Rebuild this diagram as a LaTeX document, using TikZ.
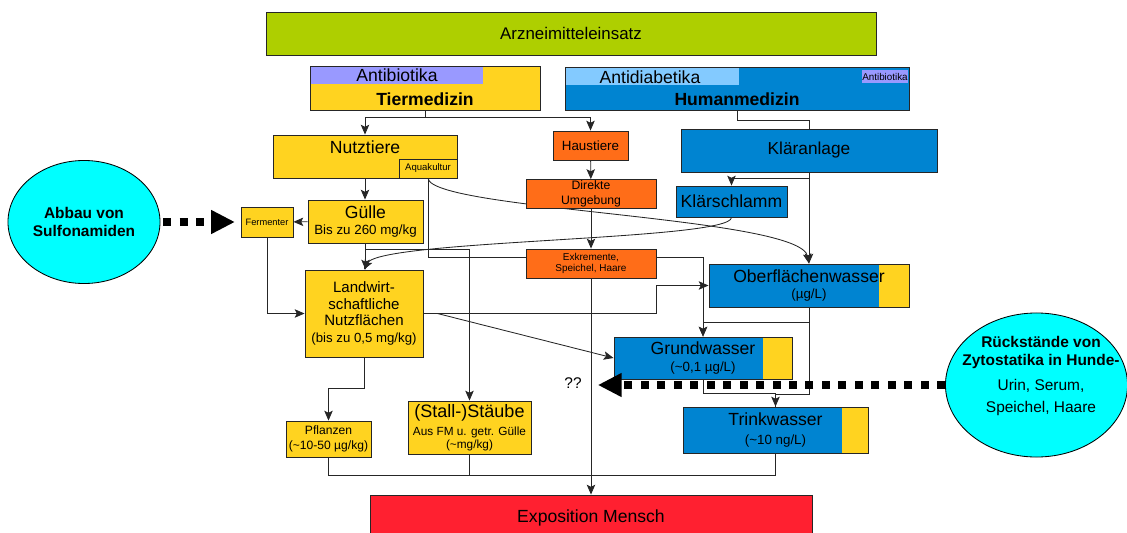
\documentclass[tikz,border=0pt]{standalone}
\usepackage{fontspec}
\setmainfont{Liberation Sans}
\usetikzlibrary{arrows.meta,backgrounds,shapes.geometric}

\definecolor{gelb}{RGB}{255,211,32}
\definecolor{blau}{RGB}{0,132,209}
\definecolor{hellblau}{RGB}{131,202,255}
\definecolor{lila}{RGB}{153,153,255}
\definecolor{gruen}{RGB}{174,207,0}
\definecolor{rot}{RGB}{255,32,48}
\definecolor{orangerot}{RGB}{255,109,24}
\definecolor{tuerkis}{RGB}{0,255,255}

\newcommand{\schrift}[2]{\fontsize{#1}{#2}\selectfont}

\begin{document}
\begin{tikzpicture}[
    x=0.025cm, y=-0.025cm,
    box/.style={draw=black!85, line width=0.6pt, inner sep=1pt, align=center},
    kopf/.style 2 args={path picture={\fill[#1] (path picture bounding box.north west) rectangle ([xshift=#2, yshift=-0.45cm]path picture bounding box.north west);}},
    gelbrand/.style={path picture={\fill[gelb] ([xshift=-#1]path picture bounding box.north east) rectangle (path picture bounding box.south east);}},
    oval/.style={ellipse, draw=black, line width=0.6pt, fill=tuerkis, inner sep=0pt},
    pfeil/.style={draw=black!85, line width=0.6pt, -{Stealth[length=7pt,width=6pt,inset=1.5pt]}},
    linie/.style={draw=black!85, line width=0.6pt},
    punkte/.style={line width=5.6pt, dash pattern=on 5.7pt off 6pt, -{Triangle[length=17pt,width=16pt]}}
]
\useasboundingbox (0,0) rectangle (1127,533);

% Kopfzeile
\node[box, fill=gruen, minimum width=15.25cm, minimum height=1.075cm, font=\schrift{12}{14}] (arznei) at (571,33.5) {Arzneimitteleinsatz};

\node[box, fill=gelb, kopf={lila}{4.325cm}, minimum width=5.75cm, minimum height=1.1cm] (tier) at (425,88) {};
\node[font=\schrift{12.5}{15}] (tierab) at (397,75) {Antibiotika};
\node[font=\schrift{12.5}{15}\bfseries] (tiername) at (425,99) {Tiermedizin};

\node[box, fill=blau, kopf={hellblau}{4.35cm}, minimum width=8.6cm, minimum height=1.075cm] (human) at (737,88.5) {};
\node[font=\schrift{12.5}{15}] (humanab) at (650,77) {Antidiabetika};
\node[font=\schrift{12.5}{15}\bfseries] (humanname) at (737,99) {Humanmedizin};
\node[fill=lila, inner sep=0pt, minimum width=1.15cm, minimum height=0.325cm, font=\schrift{7}{8}] (humanantib) at (885,76.5) {Antibiotika};

% Tiere
\node[box, fill=gelb, minimum width=4.6cm, minimum height=1.075cm] (nutz) at (365,156.5) {};
\node[font=\schrift{12.5}{15}] (nutztext) at (365,147) {Nutztiere};
\node[box, fill=gelb, minimum width=1.45cm, minimum height=0.475cm, font=\schrift{6.8}{8}] (aqua) at (428,168.5) {Aquakultur};

\node[box, fill=orangerot, minimum width=1.875cm, minimum height=0.725cm, font=\schrift{9.5}{11}] (haus) at (590.5,145.5) {Haustiere};
\node[box, fill=orangerot, minimum width=3.25cm, minimum height=0.7cm, font=\schrift{8.7}{10.5}] (umgeb) at (591,194) {Direkte\\Umgebung};
\node[box, fill=orangerot, minimum width=3.25cm, minimum height=0.725cm, font=\schrift{7.1}{7.8}] (exkr) at (591,263.5) {Exkremente,\\Speichel, Haare};

% Abwasser
\node[box, fill=blau, minimum width=6.4cm, minimum height=1.075cm, font=\schrift{12.3}{15}] (klaer) at (809,150.5) {Kläranlage};
\node[box, fill=blau, minimum width=2.775cm, minimum height=0.775cm, font=\schrift{12.5}{15}] (schlamm) at (731.5,201.5) {Klärschlamm};

% Guelle und Boden
\node[box, fill=gelb, minimum width=2.875cm, minimum height=1.075cm, font=\schrift{9.5}{12}] (guelle) at (365.5,221.5) {{\schrift{12.5}{12}Gülle}\\Bis zu 260 mg/kg};
\node[box, fill=gelb, minimum width=1.3cm, minimum height=0.75cm, font=\schrift{6.6}{8}] (ferm) at (267,222) {Fermenter};
\node[oval, minimum width=3.8cm, minimum height=3.075cm, font=\schrift{11}{12.8}\bfseries, align=center] (sulfo) at (84,222) {Abbau von\\Sulfonamiden};

\node[box, fill=gelb, minimum width=2.95cm, minimum height=2.175cm, font=\schrift{10.7}{11.7}] (landw) at (364,313.5) {Landwirt-\\schaftliche\\Nutzflächen\\{\schrift{9.4}{11.7}(bis zu 0,5 mg/kg)}};

% Wasser
\node[box, fill=blau, gelbrand=0.75cm, minimum width=5cm, minimum height=1.075cm, font=\schrift{9.5}{12}] (oberfl) at (809,285.5) {{\schrift{12.5}{12}Oberflächenwasser}\\(µg/L)};
\node[box, fill=blau, gelbrand=0.725cm, minimum width=4.45cm, minimum height=1.05cm, font=\schrift{9.5}{12}] (grund) at (703,358) {{\schrift{12.5}{12}Grundwasser}\\(\textasciitilde 0,1 µg/L)};
\node[box, fill=blau, gelbrand=0.65cm, minimum width=4.625cm, minimum height=1.15cm, font=\schrift{9.5}{13}] (trink) at (775.5,430) {{\schrift{12.5}{13}Trinkwasser}\\(\textasciitilde 10 ng/L)};

\node[box, fill=gelb, minimum width=2.125cm, minimum height=0.9cm, font=\schrift{8.6}{10.7}] (pflanz) at (328.5,439) {Pflanzen\\(\textasciitilde 10-50 µg/kg)};
\node[box, fill=gelb, minimum width=3.075cm, minimum height=1.325cm, font=\schrift{8.4}{9.3}] (staub) at (469.5,427.5) {{\schrift{12.8}{9.3}(Stall-)Stäube}\\[3.5pt]Aus FM u. getr. Gülle\\(\textasciitilde mg/kg)};

\node[box, fill=rot, minimum width=11.05cm, minimum height=1.125cm, font=\schrift{12.5}{15}] (expo) at (591,517.5) {Exposition Mensch};

\node[oval, minimum width=4.55cm, minimum height=3.6cm] (rueck) at (1036.5,385) {};
\node[align=center, font=\schrift{11}{12.8}] (ruecktext) at (1041,376) {\textbf{Rückstände von}\\\textbf{Zytostatika in Hunde-}\\[5pt]Urin, Serum,\\[2.2pt]Speichel, Haare};
\node[font=\schrift{11}{13}] (fragen) at (573,383) {??};

\coordinate (sammel) at (591,475);

% Verbindungen
\begin{scope}[on background layer]
\draw[pfeil] (tier.south) -- ++(0,7) -| (nutz.north);
\draw[pfeil] (tier.south) -- ++(0,7) -| (haus.north);
\draw[linie] (human.south) -- ++(0,10) -| (klaer.north);
\draw[pfeil] (klaer.south) -- ++(0,6) -| (schlamm.north);
\draw[pfeil] (klaer.south) -- (oberfl.north);
\draw[pfeil] (haus) -- (umgeb);
\draw[pfeil] (umgeb) -- (exkr);
\draw[pfeil] (exkr) -- (expo);
\draw[pfeil] (nutz.south) -- (nutz.south |- guelle.north);
\draw[pfeil] (guelle) -- (ferm);
\draw[pfeil] (guelle.south) -- (guelle.south |- landw.north);
\draw[pfeil] (guelle.south) -- ++(0,6) -| (staub.north);
\draw[pfeil] (aqua.south) -- ++(0,79) -| (grund.north);
\draw[pfeil] (aqua.south) .. controls +(5,32) and +(-9,-47) .. (oberfl.north);
\draw[pfeil] (schlamm.south) .. controls +(0,23) and +(16,-30) .. (landw.north);
\draw[pfeil] (ferm.south) |- (landw.west);
\draw[pfeil] (landw.east) -- ++(233,0) |- (oberfl.west);
\draw[pfeil] (landw.east) -- ++(14,0) -- (grund.west);
\draw[pfeil] (landw.south) -- ++(0,31) -| (pflanz.north);
\draw[pfeil] (oberfl.south) -- ++(0,15) -| (grund.north);
\draw[pfeil] (oberfl.south) -- ++(0,87) -| (trink.north);
\draw[linie] (grund.south) -- ++(0,14) -| (trink.north);
\draw[linie] (pflanz.south) |- (sammel);
\draw[linie] (staub.south) |- (sammel);
\draw[linie] (trink.south) |- (sammel);
\end{scope}

\draw[punkte, shorten <=2pt, shorten >=4pt] (sulfo.east) -- (ferm.west);
\draw[punkte, shorten >=8pt] (rueck.west) -- (rueck.west -| fragen.east);
\end{tikzpicture}
\end{document}
